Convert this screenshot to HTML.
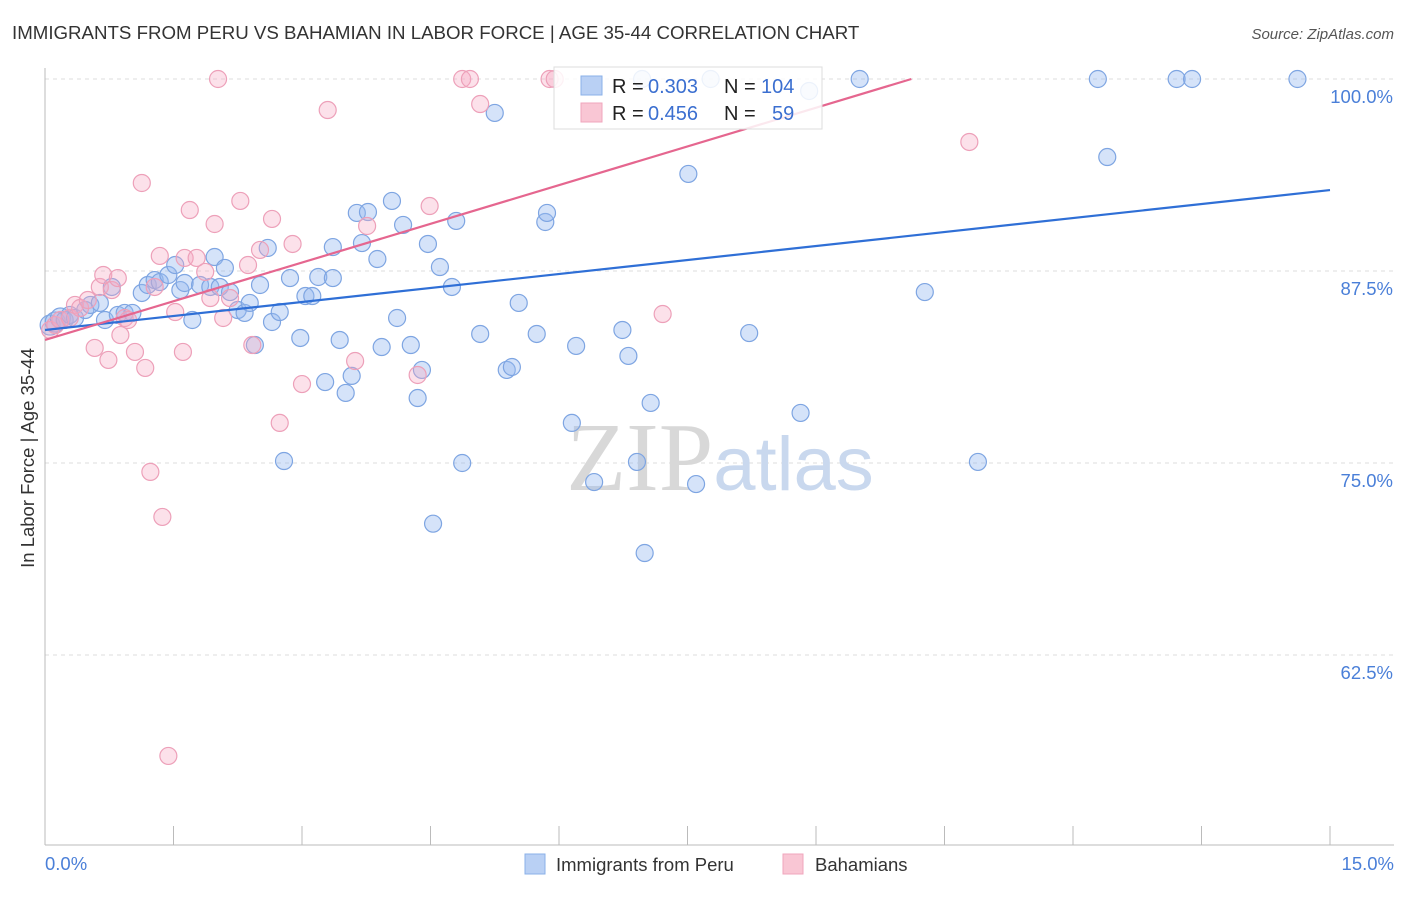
<!DOCTYPE html>
<html><head><meta charset="utf-8"><style>
body{margin:0;background:#fff;font-family:"Liberation Sans",sans-serif;}
svg text{font-family:"Liberation Sans",sans-serif;}
</style></head><body>
<svg id="c" width="1406" height="892" xmlns="http://www.w3.org/2000/svg">
<text x="12" y="39" font-size="18.7" fill="#333">IMMIGRANTS FROM PERU VS BAHAMIAN IN LABOR FORCE | AGE 35-44 CORRELATION CHART</text>
<text x="1394" y="39" font-size="15" fill="#555" text-anchor="end" font-style="italic">Source: ZipAtlas.com</text>
<text x="34" y="458" font-size="18.5" fill="#333" text-anchor="middle" transform="rotate(-90 34 458)">In Labor Force | Age 35-44</text>
<g id="grid"></g>
<text x="720" y="490" font-size="98" fill="#ddd" text-anchor="middle"><tspan fill="#d8d8d8" font-family="Liberation Serif">ZIP</tspan><tspan fill="#c9d8ee" font-family="Liberation Sans" font-size="76">atlas</tspan></text>
<g id="pts"></g>
<g id="lines"></g>
<g>
<rect x="554" y="67" width="268" height="62" fill="rgba(255,255,255,0.85)" stroke="#ddd"/>
<rect x="581" y="76" width="21" height="19" fill="#b9d0f4" stroke="#8ab0e8"/>
<rect x="581" y="103" width="21" height="19" fill="#f9c6d4" stroke="#f0a6bc"/>
<text x="612" y="93" font-size="20" fill="#222">R =</text>
<text x="648" y="93" font-size="20" fill="#3b6fd0">0.303</text>
<text x="724" y="93" font-size="20" fill="#222">N =</text>
<text x="761" y="93" font-size="20" fill="#3b6fd0">104</text>
<text x="612" y="120" font-size="20" fill="#222">R =</text>
<text x="648" y="120" font-size="20" fill="#3b6fd0">0.456</text>
<text x="724" y="120" font-size="20" fill="#222">N =</text>
<text x="772" y="120" font-size="20" fill="#3b6fd0">59</text>
</g>
<g>
<rect x="525" y="854" width="20" height="20" fill="#b9d0f4" stroke="#8ab0e8"/>
<text x="556" y="871" font-size="18.5" fill="#333">Immigrants from Peru</text>
<rect x="783" y="854" width="20" height="20" fill="#f9c6d4" stroke="#f0a6bc"/>
<text x="815" y="871" font-size="18.5" fill="#333">Bahamians</text>
</g>
</svg>
<script>
const xTicks=[0,1.5,3,4.5,6,7.5,9,10.5,12,13.5,15];
const yTicks=[100,87.5,75,62.5];
const yTickLabels=["100.0%","87.5%","75.0%","62.5%"];
const peruX=[0.06,0.12,0.18,0.23,0.29,0.35,0.47,0.53,0.64,0.70,0.78,0.85,0.93,1.02,1.13,1.20,1.28,1.34,1.44,1.52,1.58,1.63,1.72,1.81,1.93,1.98,2.04,2.10,2.16,2.25,2.33,2.39,2.45,2.51,2.60,2.65,2.74,2.79,2.86,2.98,3.04,3.12,3.19,3.27,3.36,3.36,3.44,3.51,3.58,3.64,3.70,3.77,3.88,3.93,4.05,4.11,4.18,4.27,4.35,4.40,4.47,4.53,4.61,4.75,4.80,4.87,5.08,5.25,5.39,5.45,5.53,5.74,5.84,5.86,6.15,6.20,6.41,6.74,6.81,6.91,6.97,7.00,7.07,7.51,7.60,7.77,8.22,8.82,8.92,9.51,10.27,10.89,12.29,12.40,13.21,13.39,14.62];
const peruY=[83.98,84.18,84.44,84.31,84.64,84.44,84.96,85.29,85.42,84.31,86.46,84.64,84.77,84.77,86.07,86.59,86.91,86.78,87.24,87.89,86.26,86.72,84.31,86.59,86.46,88.41,86.46,87.70,86.13,84.96,84.77,85.42,82.68,86.59,89.00,84.18,84.83,75.13,87.04,83.14,85.87,85.87,87.11,80.27,87.04,89.06,83.01,79.56,80.67,91.28,89.32,91.34,88.28,82.55,92.06,84.44,90.50,82.68,79.23,81.06,89.26,71.05,87.76,86.46,90.76,75.00,83.40,97.79,81.06,81.25,85.42,83.40,90.69,91.28,77.61,82.62,73.76,83.66,81.97,75.07,100,69.14,78.91,93.82,73.63,100,83.46,78.26,99.22,100,86.13,75.07,100,94.92,100,100,100];
const bahX=[0.06,0.12,0.18,0.29,0.35,0.41,0.50,0.58,0.64,0.68,0.74,0.78,0.85,0.88,0.93,0.97,1.05,1.13,1.17,1.23,1.28,1.34,1.37,1.44,1.52,1.61,1.63,1.69,1.77,1.87,1.93,1.98,2.02,2.08,2.16,2.28,2.37,2.42,2.51,2.65,2.74,2.89,3.00,3.30,3.62,3.76,4.35,4.49,4.87,4.96,5.08,5.89,5.95,7.21,10.79];
const bahY=[83.66,83.98,84.31,84.44,85.29,85.09,85.61,82.49,86.46,87.24,81.71,86.26,87.04,83.33,84.44,84.31,82.23,93.23,81.19,74.42,86.46,88.48,71.49,55.93,84.83,82.23,88.35,91.47,88.35,87.44,85.74,90.56,100,84.44,85.74,92.06,87.89,82.68,88.87,90.89,77.61,89.26,80.14,97.98,81.64,90.43,80.73,91.73,100,100,98.37,100,100,84.70,95.90];
const peruLine=[83.66,92.77];
const bahLine=[83.01,1.68];
const NS="http://www.w3.org/2000/svg";
const X=v=>45+v/15*1285, Y=v=>79+(100-v)*15.36;
function mk(t,a,p){const e=document.createElementNS(NS,t);for(const k in a)e.setAttribute(k,a[k]);p.appendChild(e);return e;}
const g=document.getElementById('grid');
yTicks.forEach((t,i)=>{
 const l=mk('line',{x1:45,x2:1394,y1:Y(t),y2:Y(t),stroke:'#ddd','stroke-dasharray':'4 4'},g);
 
 
 const tx=mk('text',{x:1393,y:Y(t)+24,'font-size':18.5,fill:'#4a7fd8','text-anchor':'end'},g);tx.textContent=yTickLabels[i];
 
 
});
const ax=mk('line',{x1:45,x2:45,y1:68,y2:845,stroke:'#bbb'},g);


const bx=mk('line',{x1:45,x2:1394,y1:845,y2:845,stroke:'#bbb'},g);


xTicks.forEach(t=>{const l=mk('line',{x1:X(t),x2:X(t),y1:826,y2:845,stroke:'#bbb'},g);
 
 });
const t0=mk('text',{x:45,y:870,'font-size':18.5,fill:'#4a7fd8'},g);t0.textContent='0.0%';


const t1=mk('text',{x:1394,y:870,'font-size':18.5,fill:'#4a7fd8','text-anchor':'end'},g);t1.textContent='15.0%';


const P=document.getElementById('pts');
peruX.forEach((x,i)=>{const c=mk('circle',{cx:X(x),cy:Y(peruY[i]),r:i<3?10:8.5,fill:'rgba(150,185,240,0.4)',stroke:'#7ea5e2','stroke-width':1.2},P);
 
 });
bahX.forEach((x,i)=>{const c=mk('circle',{cx:X(x),cy:Y(bahY[i]),r:8.5,fill:'rgba(245,170,195,0.35)',stroke:'#eda0b9','stroke-width':1.2},P);
 
 });
const L=document.getElementById('lines');
const lp=mk('line',{x1:X(0),y1:Y(peruLine[0]),x2:X(15),y2:Y(peruLine[1]),stroke:'#2f6fd6','stroke-width':2.2},L);


const xe=(100-bahLine[0])/bahLine[1];
const lb=mk('line',{x1:X(0),y1:Y(bahLine[0]),x2:X(xe),y2:Y(100),stroke:'#e5668f','stroke-width':2.2},L);


</script>
</body></html>
